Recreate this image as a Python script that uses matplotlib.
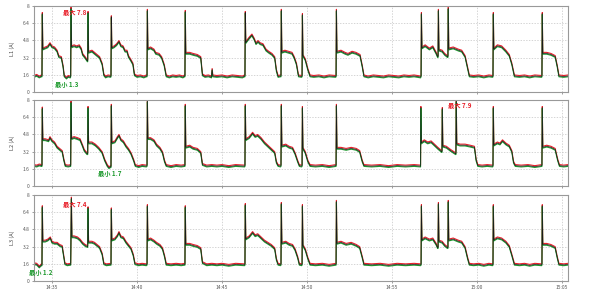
import numpy as np
import matplotlib
matplotlib.use("Agg")
import matplotlib.pyplot as plt
from matplotlib import transforms

plt.rcParams['font.family'] = ['Noto Sans CJK SC', 'DejaVu Sans']

# time in minutes after 14:35
tick_pos = [0, 5, 10, 15, 20, 25, 30]
tick_labels = ["14:35", "14:40", "14:45", "14:50", "14:55", "15:00", "15:05"]
y_ticks = [0, 1.6, 3.2, 4.8, 6.4, 8]
y_tick_labels = ["0", "1.6", "3.2", "4.8", "6.4", "8"]
phase_names = ["L1 (A)", "L2 (A)", "L3 (A)"]

l1_points = [
    (-1.06, 1.45), (-0.9, 1.55), (-0.75, 1.4), (-0.62, 1.5),
    (-0.59, 1.5), (-0.57, 7.3), (-0.54, 4.0), (-0.4, 4.1), (-0.25, 4.2), (-0.12, 4.5),
    (0.0, 4.2), (0.15, 4.1), (0.3, 3.8), (0.4, 3.3), (0.55, 3.2), (0.65, 2.4), (0.72, 1.5),
    (0.85, 1.3), (0.95, 1.45), (1.08, 1.4),
    (1.1, 1.5), (1.12, 7.8), (1.15, 4.2), (1.3, 4.3), (1.45, 4.2), (1.6, 4.3), (1.72, 4.0),
    (1.8, 3.5), (1.95, 3.2), (2.08, 2.9),
    (2.1, 2.9), (2.12, 7.4), (2.15, 3.7), (2.35, 3.8), (2.5, 3.6), (2.65, 3.4), (2.8, 3.2),
    (2.95, 2.6), (3.05, 1.6), (3.15, 1.4), (3.3, 1.5), (3.45, 1.45),
    (3.47, 1.5), (3.49, 7.0), (3.52, 4.1), (3.65, 4.2), (3.8, 4.4), (3.94, 4.7), (4.05, 4.3),
    (4.18, 4.2), (4.3, 3.8), (4.41, 3.8), (4.5, 3.3), (4.62, 3.0), (4.76, 2.6), (4.85, 1.6),
    (5.0, 1.45), (5.2, 1.5), (5.4, 1.4), (5.55, 1.5),
    (5.59, 1.5), (5.61, 7.6), (5.64, 4.0), (5.8, 4.1), (6.0, 3.9), (6.1, 3.6), (6.3, 3.5),
    (6.45, 3.2), (6.6, 2.5), (6.72, 1.5), (6.9, 1.4), (7.1, 1.5), (7.3, 1.45), (7.5, 1.5),
    (7.7, 1.4), (7.8, 1.5),
    (7.82, 1.5), (7.84, 7.5), (7.87, 3.6), (8.1, 3.6), (8.3, 3.5), (8.55, 3.4), (8.75, 3.2),
    (8.85, 1.6), (9.0, 1.45), (9.2, 1.5), (9.38, 1.4), (9.42, 2.1), (9.46, 1.5), (9.7, 1.45),
    (10.0, 1.5), (10.3, 1.4), (10.6, 1.5), (10.9, 1.45), (11.2, 1.4), (11.33, 1.5),
    (11.35, 1.5), (11.37, 7.4), (11.4, 4.6), (11.59, 5.0), (11.76, 5.3), (11.9, 4.9),
    (12.0, 4.5), (12.12, 4.7), (12.24, 4.5), (12.41, 4.4), (12.59, 3.9), (12.75, 3.7),
    (12.94, 3.5), (13.1, 3.2), (13.2, 2.0), (13.3, 1.45), (13.44, 1.5),
    (13.47, 1.5), (13.49, 7.6), (13.52, 3.7), (13.7, 3.8), (13.9, 3.7), (14.12, 3.6),
    (14.25, 3.2), (14.38, 2.6), (14.5, 1.5), (14.68, 1.45),
    (14.71, 1.5), (14.73, 7.2), (14.76, 3.4), (14.9, 3.0), (15.05, 2.1), (15.18, 1.5),
    (15.4, 1.45), (15.7, 1.5), (16.0, 1.4), (16.3, 1.5), (16.68, 1.45),
    (16.71, 1.5), (16.73, 7.6), (16.76, 3.7), (17.0, 3.8), (17.24, 3.6), (17.41, 3.5),
    (17.65, 3.7), (17.88, 3.6), (18.12, 3.4), (18.25, 2.4), (18.35, 1.5), (18.6, 1.4),
    (18.9, 1.5), (19.2, 1.45), (19.5, 1.4), (19.8, 1.5), (20.1, 1.45), (20.4, 1.4),
    (20.7, 1.5), (21.0, 1.45), (21.3, 1.5), (21.68, 1.4),
    (21.71, 1.5), (21.73, 7.3), (21.76, 4.1), (21.95, 4.3), (22.2, 4.0), (22.4, 4.2),
    (22.6, 3.6), (22.68, 3.3),
    (22.71, 3.3), (22.73, 7.6), (22.76, 3.9), (22.95, 3.8), (23.1, 3.5), (23.26, 3.3),
    (23.29, 3.3), (23.31, 7.8), (23.34, 4.0), (23.6, 4.1), (23.9, 3.9), (24.1, 3.8),
    (24.3, 3.3), (24.45, 2.2), (24.55, 1.5), (24.8, 1.45), (25.1, 1.5), (25.4, 1.4),
    (25.7, 1.5), (25.92, 1.45),
    (25.94, 1.5), (25.96, 7.3), (25.99, 4.0), (26.2, 4.3), (26.45, 4.2), (26.7, 3.8),
    (26.9, 3.4), (27.05, 2.6), (27.2, 1.5), (27.5, 1.45), (27.8, 1.5), (28.1, 1.4),
    (28.4, 1.5), (28.8, 1.45),
    (28.82, 1.5), (28.84, 7.3), (28.87, 3.6), (29.1, 3.6), (29.35, 3.5), (29.6, 3.3),
    (29.72, 2.4), (29.82, 1.5), (30.1, 1.45), (30.35, 1.5),
]

l2_points = [
    (-1.06, 1.9), (-0.9, 1.85), (-0.75, 1.95), (-0.62, 1.9),
    (-0.59, 1.9), (-0.57, 7.25), (-0.54, 4.3), (-0.4, 4.3), (-0.2, 4.2), (-0.12, 4.5),
    (0.0, 4.2), (0.15, 4.0), (0.3, 3.6), (0.45, 3.4), (0.6, 3.2), (0.7, 2.4), (0.78, 1.9),
    (0.95, 1.85), (1.08, 1.9),
    (1.1, 1.9), (1.12, 7.8), (1.15, 4.4), (1.3, 4.5), (1.5, 4.4), (1.65, 4.3), (1.78, 3.8),
    (1.9, 3.3), (2.06, 3.0),
    (2.1, 3.0), (2.12, 7.3), (2.15, 4.0), (2.35, 4.0), (2.55, 3.8), (2.75, 3.5), (2.95, 3.1),
    (3.1, 2.4), (3.25, 1.9), (3.35, 1.7), (3.45, 1.8),
    (3.47, 1.8), (3.49, 7.5), (3.52, 4.0), (3.7, 4.1), (3.85, 4.5), (3.94, 4.7), (4.05, 4.3),
    (4.2, 4.1), (4.35, 3.7), (4.5, 3.4), (4.65, 3.0), (4.8, 2.4), (4.9, 1.9), (5.1, 1.8),
    (5.3, 1.9), (5.55, 1.85),
    (5.59, 1.9), (5.61, 7.9), (5.64, 4.4), (5.8, 4.4), (6.0, 4.2), (6.15, 3.8), (6.35, 3.5),
    (6.5, 3.1), (6.62, 2.3), (6.72, 1.9), (7.0, 1.8), (7.3, 1.9), (7.6, 1.85), (7.8, 1.9),
    (7.82, 1.9), (7.84, 7.5), (7.87, 3.6), (8.1, 3.7), (8.3, 3.5), (8.55, 3.4), (8.75, 3.1),
    (8.85, 2.0), (9.1, 1.85), (9.4, 1.9), (9.7, 1.85), (10.0, 1.9), (10.4, 1.8),
    (10.8, 1.9), (11.33, 1.85),
    (11.35, 1.9), (11.37, 7.5), (11.4, 4.3), (11.6, 4.5), (11.8, 4.9), (11.95, 4.6),
    (12.1, 4.7), (12.3, 4.4), (12.5, 4.0), (12.7, 3.7), (12.9, 3.4), (13.1, 3.1),
    (13.2, 2.2), (13.3, 1.9), (13.44, 1.85),
    (13.47, 1.9), (13.49, 7.5), (13.52, 3.7), (13.75, 3.8), (13.95, 3.6), (14.15, 3.5),
    (14.3, 3.0), (14.45, 2.3), (14.55, 1.9), (14.68, 1.85),
    (14.71, 1.9), (14.73, 7.3), (14.76, 3.5), (14.9, 3.1), (15.05, 2.3), (15.18, 1.9),
    (15.5, 1.85), (15.9, 1.9), (16.3, 1.8), (16.68, 1.9),
    (16.71, 1.9), (16.73, 7.5), (16.76, 3.5), (17.0, 3.5), (17.3, 3.4), (17.6, 3.5),
    (17.9, 3.4), (18.1, 3.2), (18.25, 2.3), (18.35, 1.9), (18.8, 1.85), (19.3, 1.9),
    (19.8, 1.8), (20.3, 1.9), (20.8, 1.85), (21.3, 1.9), (21.66, 1.85),
    (21.68, 1.85), (21.7, 7.3), (21.73, 4.0), (21.9, 4.2), (22.1, 4.0), (22.3, 4.1),
    (22.5, 3.8), (22.7, 3.5), (22.92, 3.2),
    (22.94, 3.2), (22.96, 7.2), (22.99, 3.7), (23.2, 3.6), (23.45, 3.3), (23.74, 3.0),
    (23.76, 3.0), (23.78, 7.9), (23.81, 3.9), (24.0, 3.8), (24.3, 3.8), (24.6, 3.7),
    (24.85, 3.6), (24.95, 2.4), (25.05, 1.9), (25.3, 1.85), (25.6, 1.9), (25.92, 1.85),
    (25.94, 1.9), (25.96, 7.3), (25.99, 3.8), (26.2, 4.0), (26.35, 3.9), (26.5, 4.2),
    (26.7, 3.9), (26.9, 3.7), (27.05, 3.2), (27.15, 2.2), (27.25, 1.9), (27.6, 1.85),
    (28.0, 1.9), (28.4, 1.8), (28.8, 1.9),
    (28.82, 1.9), (28.84, 7.3), (28.87, 3.6), (29.1, 3.7), (29.35, 3.6), (29.6, 3.4),
    (29.75, 2.4), (29.85, 1.9), (30.1, 1.85), (30.35, 1.9),
]

l3_points = [
    (-1.06, 1.6), (-0.9, 1.55), (-0.75, 1.3), (-0.62, 1.5),
    (-0.59, 1.5), (-0.57, 6.9), (-0.54, 3.7), (-0.4, 3.7), (-0.25, 3.8), (-0.1, 4.0),
    (0.0, 3.6), (0.15, 3.5), (0.3, 3.5), (0.45, 3.3), (0.6, 3.2), (0.68, 2.4), (0.76, 1.6),
    (0.9, 1.5), (1.08, 1.55),
    (1.1, 1.55), (1.14, 7.7), (1.17, 4.1), (1.3, 4.1), (1.5, 4.0), (1.65, 3.8), (1.8, 3.5),
    (1.95, 3.3), (2.08, 3.2),
    (2.1, 3.2), (2.12, 6.8), (2.15, 3.6), (2.35, 3.6), (2.5, 3.5), (2.65, 3.3), (2.8, 3.1),
    (2.95, 2.5), (3.05, 1.6), (3.2, 1.5), (3.45, 1.55),
    (3.47, 1.55), (3.49, 6.7), (3.52, 3.8), (3.7, 3.9), (3.85, 4.2), (3.94, 4.5), (4.05, 4.1),
    (4.2, 4.0), (4.35, 3.6), (4.5, 3.3), (4.65, 3.0), (4.78, 2.4), (4.88, 1.6), (5.1, 1.5),
    (5.3, 1.55), (5.55, 1.5),
    (5.59, 1.55), (5.61, 7.0), (5.64, 3.8), (5.8, 3.9), (6.0, 3.7), (6.15, 3.5), (6.35, 3.3),
    (6.5, 3.0), (6.62, 2.3), (6.72, 1.55), (7.0, 1.5), (7.3, 1.55), (7.6, 1.5), (7.8, 1.55),
    (7.82, 1.55), (7.84, 6.9), (7.87, 3.4), (8.1, 3.4), (8.3, 3.3), (8.55, 3.2), (8.75, 3.0),
    (8.85, 1.7), (9.1, 1.5), (9.4, 1.55), (9.7, 1.5), (10.0, 1.55), (10.4, 1.45),
    (10.8, 1.55), (11.33, 1.5),
    (11.35, 1.55), (11.37, 7.1), (11.4, 3.9), (11.6, 4.1), (11.8, 4.5), (11.95, 4.2),
    (12.1, 4.3), (12.3, 4.0), (12.5, 3.7), (12.7, 3.5), (12.9, 3.3), (13.1, 3.0),
    (13.2, 2.0), (13.3, 1.55), (13.44, 1.5),
    (13.47, 1.55), (13.49, 7.2), (13.52, 3.5), (13.75, 3.6), (13.95, 3.4), (14.15, 3.3),
    (14.3, 2.9), (14.45, 2.2), (14.55, 1.55), (14.68, 1.5),
    (14.71, 1.55), (14.73, 7.0), (14.76, 3.3), (14.9, 2.9), (15.05, 2.1), (15.18, 1.55),
    (15.5, 1.5), (15.9, 1.55), (16.3, 1.45), (16.68, 1.55),
    (16.71, 1.55), (16.73, 7.4), (16.76, 3.5), (17.0, 3.6), (17.3, 3.4), (17.6, 3.5),
    (17.9, 3.3), (18.1, 3.1), (18.25, 2.2), (18.35, 1.55), (18.8, 1.5), (19.3, 1.55),
    (19.8, 1.45), (20.3, 1.55), (20.8, 1.5), (21.3, 1.55), (21.68, 1.5),
    (21.71, 1.55), (21.73, 7.0), (21.76, 3.8), (21.95, 4.0), (22.2, 3.8), (22.4, 3.9),
    (22.6, 3.4), (22.68, 3.1),
    (22.71, 3.1), (22.73, 7.2), (22.76, 3.7), (22.95, 3.6), (23.1, 3.3), (23.26, 3.1),
    (23.29, 3.1), (23.31, 7.4), (23.34, 3.8), (23.6, 3.9), (23.9, 3.7), (24.1, 3.6),
    (24.3, 3.1), (24.45, 2.1), (24.55, 1.55), (24.8, 1.5), (25.1, 1.55), (25.4, 1.45),
    (25.7, 1.55), (25.92, 1.5),
    (25.94, 1.55), (25.96, 7.0), (25.99, 3.8), (26.2, 4.0), (26.45, 3.9), (26.7, 3.6),
    (26.9, 3.2), (27.05, 2.4), (27.2, 1.55), (27.5, 1.5), (27.8, 1.55), (28.1, 1.45),
    (28.4, 1.55), (28.8, 1.5),
    (28.82, 1.55), (28.84, 7.0), (28.87, 3.4), (29.1, 3.4), (29.35, 3.3), (29.6, 3.1),
    (29.72, 2.2), (29.82, 1.55), (30.1, 1.5), (30.35, 1.55),
]

# (text, x, y) in data units
max_labels = [("最大 7.8", 0.65, 7.4), ("最大 7.9", 23.3, 7.5), ("最大 7.4", 0.65, 7.15)]
min_labels = [("最小 1.3", 0.2, 0.75), ("最小 1.7", 2.7, 1.2), ("最小 1.2", -1.35, 0.75)]

all_points = [l1_points, l2_points, l3_points]

fig = plt.figure(figsize=(5.91, 3.02), dpi=100)
bottoms = [0.695, 0.384, 0.0695]
height = 0.285

for i, pts in enumerate(all_points):
    ax = fig.add_axes([0.0575, bottoms[i], 0.9035, height])
    t = np.array([p[0] for p in pts])
    v = np.array([p[1] for p in pts])

    # max trace sits just above the average, min trace just below
    up = transforms.offset_copy(ax.transData, fig=fig, x=0, y=1.0, units='dots')
    down = transforms.offset_copy(ax.transData, fig=fig, x=0, y=-0.8, units='dots')
    ax.plot(t, v, color='#e8202a', lw=0.8, transform=up)
    ax.plot(t, v, color='#1e9a2e', lw=0.8, transform=down)
    ax.plot(t, v, color='#1a1a1a', lw=0.5)

    ax.set_xlim(-1.06, 30.35)
    ax.set_ylim(0, 8)
    ax.set_yticks(y_ticks)
    ax.set_yticklabels(y_tick_labels)
    ax.set_xticks(tick_pos)
    if i == 2:
        ax.set_xticklabels(tick_labels)
    else:
        ax.set_xticklabels([])
    ax.tick_params(labelsize=3.5, length=1.5, width=0.4, colors='#555555', pad=1.5)
    ax.grid(True, color='#c4c4c4', linestyle=(0, (2, 2)), linewidth=0.5)
    for s in ax.spines.values():
        s.set_color('#999999')
        s.set_linewidth(0.8)
    ax.set_ylabel(phase_names[i], fontsize=4, color='#444444', labelpad=6)

    txt, x, y = max_labels[i]
    ax.text(x, y, txt, color='#e8202a', fontsize=4.5, fontweight='bold', va='center', ha='left')
    txt, x, y = min_labels[i]
    ax.text(x, y, txt, color='#1e9a2e', fontsize=4.5, fontweight='bold', va='center', ha='left',
            clip_on=False)

fig.savefig("out.png", dpi=100)
